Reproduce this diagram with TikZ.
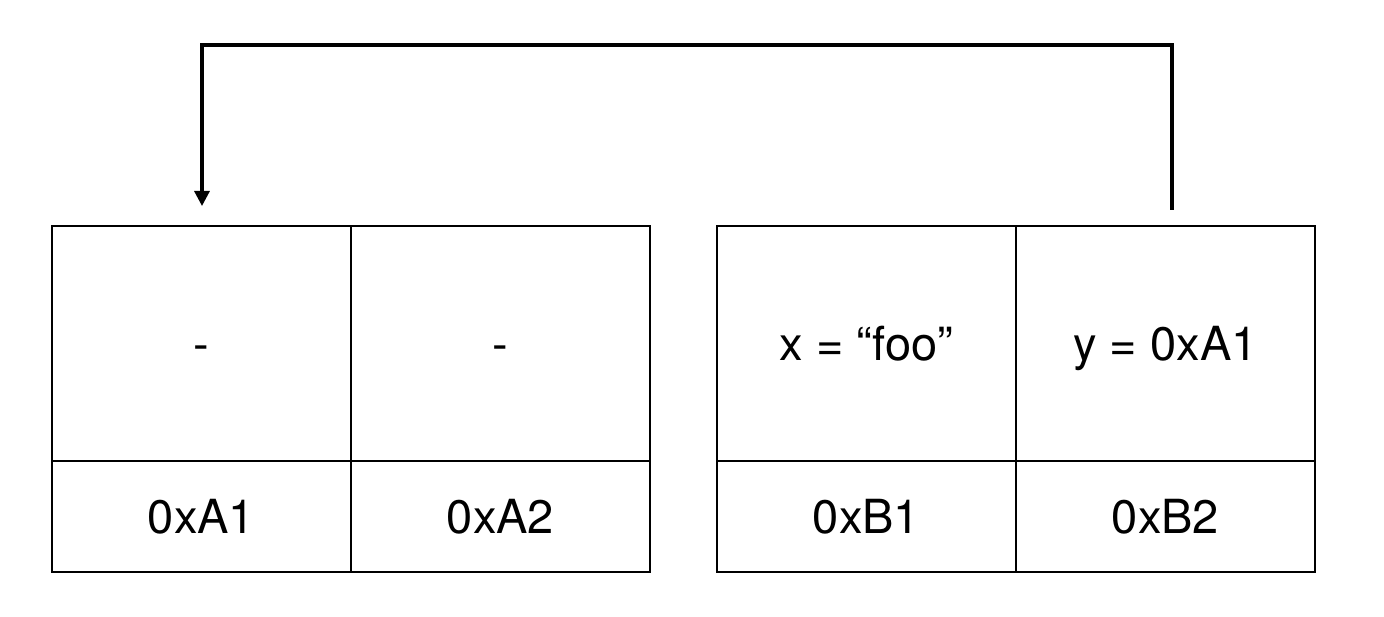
\documentclass[tikz,border=0pt]{standalone}
\usepackage{fontspec}
\setmainfont{TeX Gyre Heros}
\usepackage{xcolor}
\usetikzlibrary{arrows.meta,positioning}
\definecolor{cink}{HTML}{000000}
\definecolor{cpaper}{HTML}{FFFFFF}

\tikzset{
  cell/.style={draw=cink,line width=1.2pt,minimum width=299pt,inner sep=0pt,
    outer sep=0pt,text height=35pt,text depth=0pt,
    font=\fontsize{47}{54}\selectfont},
  valcell/.style={cell,minimum height=235pt},
  addrcell/.style={cell,minimum height=111pt},
  link/.style={draw=cink,line width=3.2pt,-{Triangle[width=15pt,length=15pt]}}
}

\begin{document}
\begin{tikzpicture}[x=1pt,y=1pt]
  \fill[cpaper] (0,0) rectangle (1384,616);
  % first block
  \node[valcell,anchor=north west] (a1val) at (52,390) {-};
  \node[valcell,right=0pt of a1val] (a2val) {-};
  \node[addrcell,below=0pt of a1val] (a1addr) {0xA1};
  \node[addrcell,below=0pt of a2val] (a2addr) {0xA2};
  % second block
  \node[valcell,anchor=north west] (b1val) at (717,390) {x = “foo”};
  \node[valcell,right=0pt of b1val] (b2val) {y = 0xA1};
  \node[addrcell,below=0pt of b1val] (b1addr) {0xB1};
  \node[addrcell,below=0pt of b2val] (b2addr) {0xB2};
  % pointer from y back to 0xA1
  \coordinate (ysrc) at (1172,406);
  \coordinate (adst) at (202,410);
  \draw[link] (ysrc) -- ++(0,165) -| (adst);
\end{tikzpicture}
\end{document}
